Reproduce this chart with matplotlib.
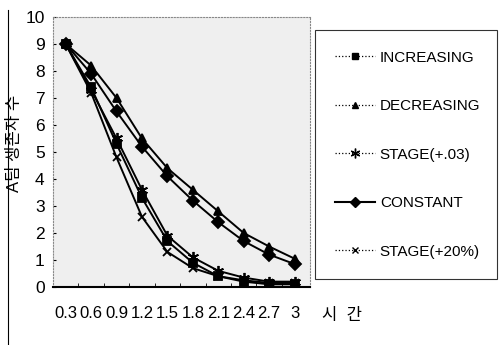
import numpy as np
import matplotlib
matplotlib.use('Agg')
import matplotlib.pyplot as plt
from matplotlib.lines import Line2D

plt.rcParams['font.family'] = ['Liberation Sans', 'Noto Sans CJK KR', 'DejaVu Sans']

# data
times = ['0.3', '0.6', '0.9', '1.2', '1.5', '1.8', '2.1', '2.4', '2.7', '3']
series_names = ['INCREASING', 'DECREASING', 'STAGE(+.03)', 'CONSTANT', 'STAGE(+20%)']
increasing = [9.0, 7.4, 5.3, 3.3, 1.7, 0.9, 0.4, 0.2, 0.1, 0.1]
decreasing = [9.0, 8.2, 7.0, 5.5, 4.4, 3.6, 2.8, 2.0, 1.5, 1.05]
stage_03 = [9.0, 7.3, 5.5, 3.6, 1.9, 1.1, 0.6, 0.35, 0.2, 0.2]
constant = [9.0, 7.9, 6.5, 5.2, 4.1, 3.2, 2.4, 1.7, 1.2, 0.85]
stage_20 = [9.0, 7.2, 4.8, 2.6, 1.3, 0.7, 0.4, 0.25, 0.15, 0.15]

all_vals = [increasing, decreasing, stage_03, constant, stage_20]
markers = ['s', '^', (6, 2, 0), 'D', 'x']
msizes = [6, 6, 8, 6, 6]

fig = plt.figure(figsize=(4.99, 3.45), dpi=100)
ax = fig.add_axes([0.106, 0.168, 0.515, 0.783])
ax.set_facecolor('#efefef')

x = np.arange(len(times))
for vals, m, ms in zip(all_vals, markers, msizes):
    ax.plot(x, vals, color='black', lw=1.4, marker=m, ms=ms,
            mfc='black', mec='black', mew=1.3)

ax.set_xlim(-0.5, 9.6)
ax.set_ylim(0, 10)
ax.set_yticks(range(0, 11))
ax.set_xticks(x)
ax.set_xticklabels(times)
ax.set_xticks(np.arange(0.5, 9.5, 1), minor=True)
ax.tick_params(axis='x', which='major', length=0, labelsize=12, pad=14)
ax.tick_params(axis='x', which='minor', direction='in', length=3)
ax.tick_params(axis='y', direction='in', length=2, labelsize=12.5, pad=6)

for s in ['top', 'right', 'left']:
    ax.spines[s].set_color('#888888')
    ax.spines[s].set_linestyle(':')
ax.spines['bottom'].set_color('black')
ax.spines['bottom'].set_linewidth(1.5)

ax.set_ylabel('A팀 생존자 수', fontsize=12)
ax.yaxis.set_label_coords(-0.12, 0.53)
fig.text(0.645, 0.085, '시  간', fontsize=12, ha='left', va='center')

handles = []
for name, m, ms in zip(series_names, markers, msizes):
    ls = '-' if name == 'CONSTANT' else ':'
    lw = 1.5 if name == 'CONSTANT' else 0.9
    handles.append(Line2D([0], [0], color='black', ls=ls, lw=lw, marker=m,
                          ms=ms - 1, mfc='black', mec='black'))
leg = fig.legend(handles, series_names, loc='upper left',
                 bbox_to_anchor=(0.631, 0.913, 0.365, 0.0), mode='expand',
                 fontsize=11, handlelength=2.6, handletextpad=0.3,
                 labelspacing=2.26, borderpad=1.35, fancybox=False,
                 borderaxespad=0, frameon=True)
leg.get_frame().set_edgecolor('black')
leg.get_frame().set_linewidth(0.8)

fig.add_artist(Line2D([0.016, 0.016], [0.0, 0.97], color='black', lw=0.8,
                      transform=fig.transFigure))

fig.savefig('out.png', dpi=100)
